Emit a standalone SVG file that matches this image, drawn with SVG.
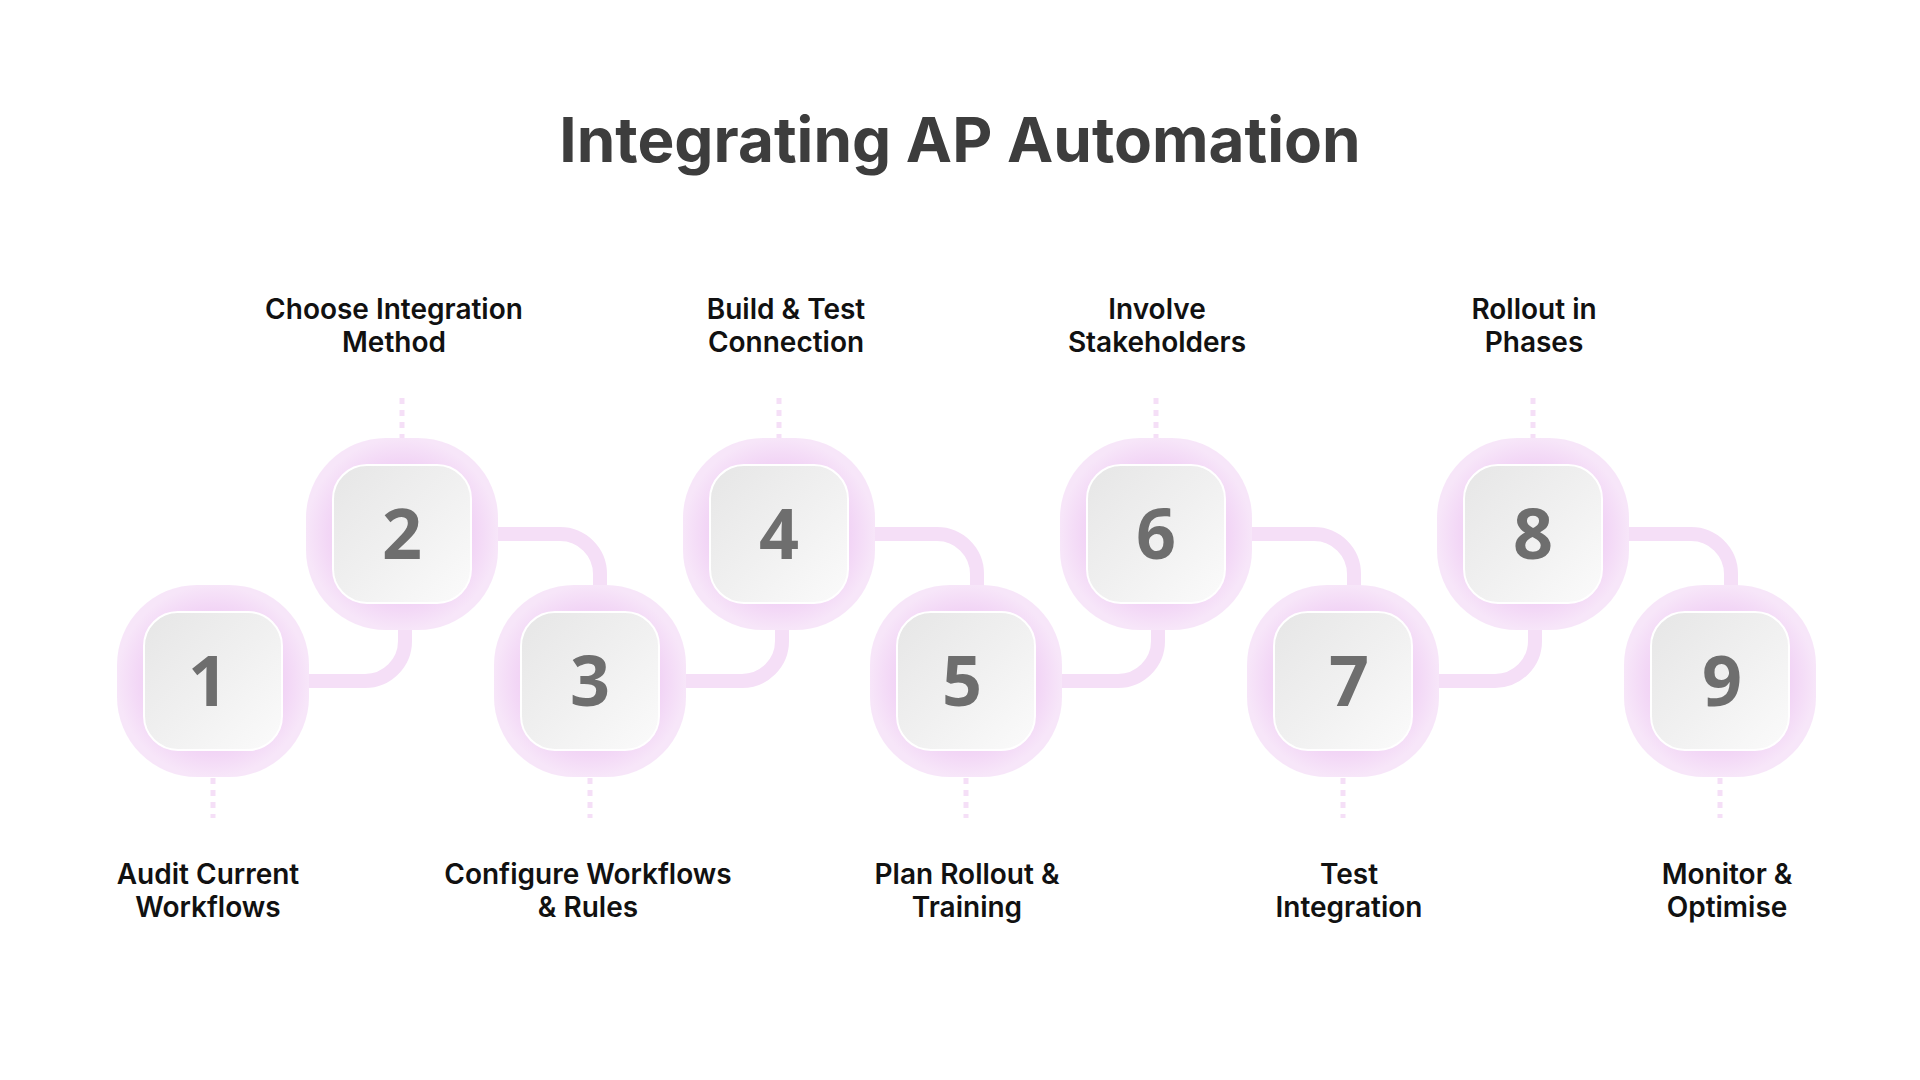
<svg xmlns="http://www.w3.org/2000/svg" width="1920" height="1080" viewBox="0 0 1920 1080">
<defs>
<linearGradient id="g" x1="0" y1="0" x2="1" y2="1"><stop offset="0" stop-color="#e6e6e6"/><stop offset="0.5" stop-color="#f0f0f0"/><stop offset="1" stop-color="#fbfbfb"/></linearGradient>
<radialGradient id="r" cx="0.5" cy="0.5" r="0.5"><stop offset="0.7" stop-color="#f1d2f5"/><stop offset="1" stop-color="#f7e6f9"/></radialGradient>
<g id="node"><rect x="-96" y="-96" width="192" height="192" rx="80" fill="url(#r)"/><rect x="-69" y="-69" width="138" height="138" rx="34" fill="url(#g)" stroke="#ffffff" stroke-width="2"/></g>
</defs>
<style>
.t{font-family:Inter,"Liberation Sans",sans-serif;font-weight:600;font-size:28px;fill:#111;text-anchor:middle}
.n{font-family:"Open Sans","Liberation Sans",sans-serif;font-weight:700;font-size:70px;fill:#6e6e6e;text-anchor:middle}
.c{fill:none;stroke:#f5dff7;stroke-width:14}
.d{stroke:#f5dff7;stroke-width:5;stroke-dasharray:6 6}
</style>
<rect width="1920" height="1080" fill="#fff"/>
<text x="960" y="162" font-family="Inter,'Liberation Sans',sans-serif" font-weight="700" font-size="62" fill="#3d3d3d" text-anchor="middle">Integrating AP Automation</text>
<g id="connectors">
<path class="c" d="M309 681H365A40 40 0 0 0 405 641V630"/>
<path class="c" d="M498 534H560A40 40 0 0 1 600 574V590"/>
<path class="c" d="M686 681H742A40 40 0 0 0 782 641V630"/>
<path class="c" d="M875 534H937A40 40 0 0 1 977 574V590"/>
<path class="c" d="M1062 681H1118A40 40 0 0 0 1158 641V630"/>
<path class="c" d="M1252 534H1314A40 40 0 0 1 1354 574V590"/>
<path class="c" d="M1439 681H1495A40 40 0 0 0 1535 641V630"/>
<path class="c" d="M1629 534H1691A40 40 0 0 1 1731 574V590"/>
<line class="d" x1="402" y1="398" x2="402" y2="438"/>
<line class="d" x1="779" y1="398" x2="779" y2="438"/>
<line class="d" x1="1156" y1="398" x2="1156" y2="438"/>
<line class="d" x1="1533" y1="398" x2="1533" y2="438"/>
<line class="d" x1="213" y1="778" x2="213" y2="818"/>
<line class="d" x1="590" y1="778" x2="590" y2="818"/>
<line class="d" x1="966" y1="778" x2="966" y2="818"/>
<line class="d" x1="1343" y1="778" x2="1343" y2="818"/>
<line class="d" x1="1720" y1="778" x2="1720" y2="818"/>
</g>
<g id="n1"><use href="#node" x="213" y="681"/><text class="n" x="208" y="706">1</text><text class="t" x="208" y="884">Audit Current</text><text class="t" x="208" y="917">Workflows</text></g>
<g id="n2"><use href="#node" x="402" y="534"/><text class="n" x="402" y="559">2</text><text class="t" x="394" y="319">Choose Integration</text><text class="t" x="394" y="352">Method</text></g>
<g id="n3"><use href="#node" x="590" y="681"/><text class="n" x="590" y="706">3</text><text class="t" x="588" y="884">Configure Workflows</text><text class="t" x="588" y="917">&amp; Rules</text></g>
<g id="n4"><use href="#node" x="779" y="534"/><text class="n" x="779" y="559">4</text><text class="t" x="786" y="319">Build &amp; Test</text><text class="t" x="786" y="352">Connection</text></g>
<g id="n5"><use href="#node" x="966" y="681"/><text class="n" x="962" y="706">5</text><text class="t" x="967" y="884">Plan Rollout &amp;</text><text class="t" x="967" y="917">Training</text></g>
<g id="n6"><use href="#node" x="1156" y="534"/><text class="n" x="1156" y="559">6</text><text class="t" x="1157" y="319">Involve</text><text class="t" x="1157" y="352">Stakeholders</text></g>
<g id="n7"><use href="#node" x="1343" y="681"/><text class="n" x="1349" y="706">7</text><text class="t" x="1349" y="884">Test</text><text class="t" x="1349" y="917">Integration</text></g>
<g id="n8"><use href="#node" x="1533" y="534"/><text class="n" x="1533" y="559">8</text><text class="t" x="1534" y="319">Rollout in</text><text class="t" x="1534" y="352">Phases</text></g>
<g id="n9"><use href="#node" x="1720" y="681"/><text class="n" x="1722" y="706">9</text><text class="t" x="1727" y="884">Monitor &amp;</text><text class="t" x="1727" y="917">Optimise</text></g>
</svg>
